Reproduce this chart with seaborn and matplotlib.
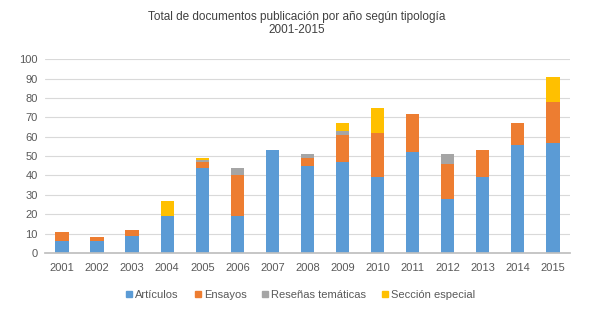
import matplotlib
matplotlib.use("Agg")
import matplotlib.pyplot as plt
import numpy as np
import pandas as pd
import seaborn as sns
from matplotlib.lines import Line2D

YEARS = [str(y) for y in range(2001, 2016)]
ARTICULOS = [6, 6, 9, 19, 44, 19, 53, 45, 47, 39, 52, 28, 39, 56, 57]
ENSAYOS = [5, 2, 3, 0, 3, 21, 0, 4, 14, 23, 20, 18, 14, 11, 21]
RESENAS = [0, 0, 0, 0, 1, 4, 0, 2, 2, 0, 0, 5, 0, 0, 0]
SECCION = [0, 0, 0, 8, 1, 0, 0, 0, 4, 13, 0, 0, 0, 0, 13]
SERIES = ["Artículos", "Ensayos", "Reseñas temáticas", "Sección especial"]
COLORS = ["#5B9BD5", "#ED7D31", "#A5A5A5", "#FFC000"]

sns.set_theme(style="white")
plt.rcParams["font.family"] = ["Liberation Sans", "DejaVu Sans"]

df = pd.DataFrame({"year": YEARS, SERIES[0]: ARTICULOS, SERIES[1]: ENSAYOS,
                   SERIES[2]: RESENAS, SERIES[3]: SECCION})
cum = df[SERIES].cumsum(axis=1)

fig = plt.figure(figsize=(5.99, 3.17), dpi=100)
ax = fig.add_axes([0.0743, 0.202, 0.878, 0.611])

# stacked bars drawn back to front from cumulative totals
for name, color in zip(SERIES[::-1], COLORS[::-1]):
    sns.barplot(x=df["year"], y=cum[name], color=color, width=0.38, ax=ax,
                saturation=1, linewidth=0)

ax.set_ylim(0, 100)
ax.set_xlim(-0.5, len(YEARS) - 0.5)
ax.set_yticks(range(0, 101, 10))
ax.yaxis.grid(True, color="#D9D9D9", linewidth=0.8)
ax.set_axisbelow(True)
for s in ["top", "right", "left"]:
    ax.spines[s].set_visible(False)
ax.spines["bottom"].set_color("#BFBFBF")
ax.set_xlabel("")
ax.set_ylabel("")
ax.tick_params(axis="both", labelsize=8, colors="#595959", length=0)
ax.tick_params(axis="y", pad=5)
ax.tick_params(axis="x", pad=7)
ax.set_xticks(np.arange(-0.5, len(YEARS), 1), minor=True)
ax.tick_params(axis="x", which="minor", length=4, color="#BFBFBF", direction="out")

fig.text(0.495, 0.925, "Total de documentos publicación por año según tipología\n2001-2015",
         ha="center", va="center", fontsize=8.5, color="#404040", linespacing=1.1)

handles = [Line2D([], [], marker="s", linestyle="", markersize=5, color=c) for c in COLORS]
fig.legend(handles, SERIES, loc="center", bbox_to_anchor=(0.5, 0.07), ncol=4, frameon=False,
           fontsize=8, handletextpad=0.05, handlelength=1.0, columnspacing=1.2,
           labelcolor="#595959")

fig.savefig("out.png", dpi=100)
